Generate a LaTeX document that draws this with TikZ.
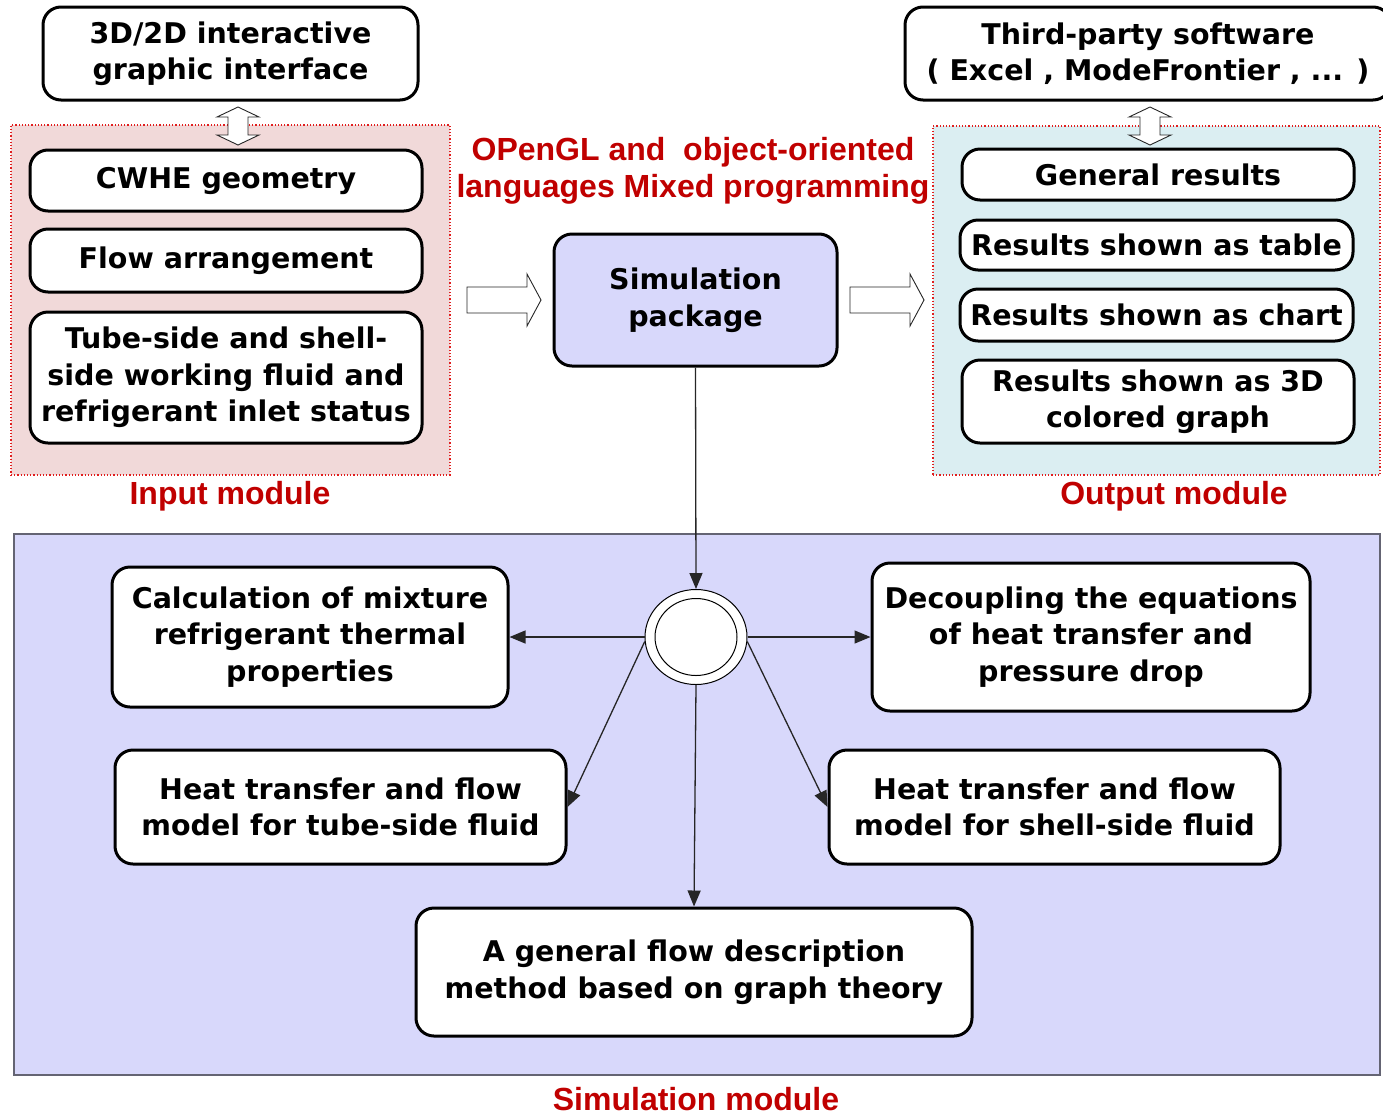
\documentclass[tikz,border=0pt]{standalone}
\usepackage{fontspec}
\setmainfont{DejaVu Sans}
\newfontfamily\redfont{Liberation Sans}
\usetikzlibrary{arrows.meta,shapes.geometric}
\definecolor{inbg}{RGB}{241,217,217}
\definecolor{outbg}{RGB}{219,238,242}
\definecolor{simbg}{RGB}{216,216,251}
\definecolor{redtxt}{RGB}{192,0,0}
\definecolor{dotred}{RGB}{225,30,30}
\definecolor{simline}{RGB}{100,100,115}
\tikzset{
  box/.style={draw=black, line width=3pt, rounded corners=18pt, fill=white, align=center,
    font=\bfseries\fontsize{28.5}{36.5}\selectfont, inner sep=0pt},
  modbox/.style={draw=dotred, dotted, line width=1.2pt, inner sep=0pt},
  redlabel/.style={text=redtxt, align=center, font=\redfont\bfseries\fontsize{32}{36.5}\selectfont, inner sep=0pt},
  conn/.style={draw=black!85, line width=1.3pt, -{Triangle[length=16pt,width=13pt]}},
  hollow/.style={draw=black!85, line width=0.9pt, fill=white, line join=miter}
}
\begin{document}
\begin{tikzpicture}[x=1pt,y=-1pt]
\useasboundingbox (0,0) rectangle (1383,1117);
% module backgrounds
\node[modbox, fill=inbg, minimum width=439, minimum height=350] (inmod) at (230.5,300) {};
\node[modbox, fill=outbg, minimum width=447, minimum height=349] (outmod) at (1156.5,300.5) {};
\node[draw=simline, line width=1.3pt, fill=simbg, minimum width=1366, minimum height=541, inner sep=0pt] (simmod) at (697,804.5) {};

% top boxes
\node[box, minimum width=375, minimum height=93] (gui) at (230.5,53.5) {3D/2D interactive\\graphic interface};
\node[box, minimum width=486, minimum height=93] (third) at (1148,53.5) {Third-party software\\( Excel , ModeFrontier , ... )};

% input boxes
\node[box, minimum width=392, minimum height=61] (geom) at (226,180.5) {CWHE geometry};
\node[box, minimum width=392, minimum height=63] (flowarr) at (226,260.5) {Flow arrangement};
\node[box, minimum width=392, minimum height=131] (inlet) at (226,377.5) {Tube-side and shell-\\side working fluid and\\refrigerant inlet status};

% output boxes
\node[box, minimum width=392, minimum height=51] (gen) at (1158,174.5) {General results};
\node[box, minimum width=393, minimum height=50] (table) at (1156.5,245) {Results shown as table};
\node[box, minimum width=393, minimum height=52] (chart) at (1156.5,315) {Results shown as chart};
\node[box, minimum width=392, minimum height=83] (graph) at (1158,401.5) {Results shown as 3D\\colored graph};

% simulation package
\node[box, fill=simbg, minimum width=283, minimum height=132] (pkg) at (695.5,300) {Simulation\\package};

% red labels
\node[redlabel] (ogl) at (693,171) {OPenGL and\ \ object-oriented\\languages Mixed programming};
\node[redlabel] (inlab) at (230,496) {Input module};
\node[redlabel] (outlab) at (1174,496) {Output module};
\node[redlabel, anchor=base] (simlab) at (696,1110) {Simulation module};

% double arrows
\foreach \cx in {238, 1150}{
  \draw[hollow] (\cx,107) -- (\cx+21,117) -- (\cx+10,117) -- (\cx+10,135) -- (\cx+21,135) -- (\cx,145)
    -- (\cx-21,135) -- (\cx-10,135) -- (\cx-10,117) -- (\cx-21,117) -- cycle;
}
% hollow right arrows
\foreach \sx in {467,850}{
  \draw[hollow] (\sx,287) -- (\sx+60,287) -- (\sx+60,274) -- (\sx+74,300) -- (\sx+60,326) -- (\sx+60,313) -- (\sx,313) -- cycle;
}

% simulation module boxes
\node[box, minimum width=396, minimum height=140] (calc) at (310,637) {Calculation of mixture\\refrigerant thermal\\properties};
\node[box, minimum width=438, minimum height=148] (dec) at (1091,637) {Decoupling the equations\\of heat transfer and\\pressure drop};
\node[box, minimum width=451, minimum height=114] (tubef) at (340.5,807) {Heat transfer and flow\\model for tube-side fluid};
\node[box, minimum width=451, minimum height=114] (shellf) at (1054.5,807) {Heat transfer and flow\\model for shell-side fluid};
\node[box, minimum width=556, minimum height=128] (graphm) at (694,972) {A general flow description\\method based on graph theory};

% hub
\node[ellipse, draw=black, line width=1pt, fill=white, minimum width=102, minimum height=95, inner sep=0pt] (hub) at (696,637) {};
\node[ellipse, draw=black, line width=1pt, fill=white, minimum width=82, minimum height=77, inner sep=0pt] (hubin) at (696,637) {};

% connectors
\draw[conn] (pkg.south) -- (hub.north);
\draw[conn] (hub.west) -- (calc.east);
\draw[conn] (hub.east) -- (dec.west);
\draw[conn] (hub.south) -- (graphm.north);
\draw[conn] (hub.185) -- (tubef.east);
\draw[conn] (hub.355) -- (shellf.west);
\end{tikzpicture}
\end{document}
